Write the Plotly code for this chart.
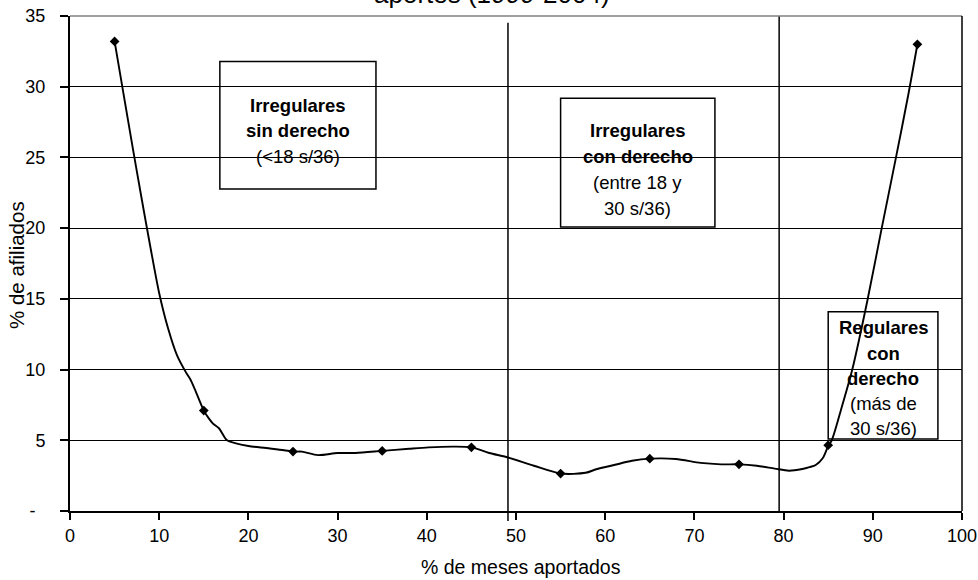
import plotly.graph_objects as go

# Smoothed distribution curve: % of affiliates by % of months contributed
curve_x = [5, 6, 7, 8, 9, 10, 11, 12, 13, 13.5, 14, 15, 15.5, 16, 16.7, 17.6,
           18.5, 20, 22, 24, 25, 26, 27.8, 30, 32, 35, 38, 40.2, 43, 45, 47, 49,
           52, 55, 57.8, 59, 61, 63, 65, 67.9, 70.7, 73, 75, 77, 79, 80.6, 82.1,
           82.9, 83.6, 84.4, 85, 85.4, 86.5, 87.7, 89.4, 91, 92.6, 94, 95]
curve_y = [33.2, 29.5, 25.8, 22.2, 18.7, 15.4, 12.9, 11.0, 9.8, 9.3, 8.6, 7.1, 6.6, 6.2, 5.85, 5.0,
           4.8, 4.6, 4.45, 4.3, 4.2, 4.2, 3.95, 4.1, 4.1, 4.25, 4.4, 4.5, 4.55, 4.5,
           4.1, 3.8, 3.2, 2.65, 2.7, 2.95, 3.25, 3.55, 3.7, 3.68, 3.4, 3.3, 3.3, 3.2,
           3.0, 2.85, 2.97, 3.1, 3.25, 3.75, 4.6, 5.0, 7.3, 10, 14.9, 20, 25, 29.5, 33.0]

# Marked points every 10 percentage points
point_x = [5, 15, 25, 35, 45, 55, 65, 75, 85, 95]
point_y = [33.2, 7.1, 4.2, 4.25, 4.5, 2.65, 3.7, 3.3, 4.65, 33.0]

x_ticks = [0, 10, 20, 30, 40, 50, 60, 70, 80, 90, 100]
y_ticks = [0, 5, 10, 15, 20, 25, 30, 35]
y_tick_labels = ["-\u00a0\u00a0", "5", "10", "15", "20", "25", "30", "35"]

# Limits between contributor groups
group_limits = [49.1, 79.5]

group_boxes = [
    {"lines": ["<b>Irregulares</b>", "<b>sin derecho</b>", "(<18 s/36)"]},
    {"lines": ["<b>Irregulares</b>", "<b>con derecho</b>", "(entre 18 y", "30 s/36)"]},
    {"lines": ["<b>Regulares</b>", "<b>con</b>", "<b>derecho</b>", "(más de", "30 s/36)"]},
]

FONT = "Liberation Sans, Arial, sans-serif"

fig = go.Figure()

fig.add_trace(go.Scatter(
    x=curve_x, y=curve_y, mode="lines",
    line=dict(color="black", width=1.9, shape="spline", smoothing=0.8),
    hoverinfo="skip", showlegend=False,
))
fig.add_trace(go.Scatter(
    x=point_x, y=point_y, mode="markers",
    marker=dict(symbol="diamond", size=7.5, color="black"),
    showlegend=False,
))

shapes = []
# group separators
shapes.append(dict(type="line", xref="x", yref="paper", x0=group_limits[0], x1=group_limits[0],
                   y0=-0.02, y1=0.9865, line=dict(color="black", width=1.5), layer="above"))
shapes.append(dict(type="line", xref="x", yref="paper", x0=group_limits[1], x1=group_limits[1],
                   y0=0, y1=1, line=dict(color="black", width=1.5), layer="above"))
# top frame and right frame
shapes.append(dict(type="line", xref="paper", yref="paper", x0=0, x1=1, y0=1, y1=1,
                   line=dict(color="#808080", width=1.5), layer="above"))
shapes.append(dict(type="line", xref="paper", yref="paper", x0=1, x1=1, y0=0, y1=1,
                   line=dict(color="black", width=1.5), layer="above"))

# label boxes: (x0, x1, y0, y1, text centre x, first line y, line step)
box_geom = [
    (16.8, 34.3, 22.77, 31.78, 25.55, 28.64, 1.77),
    (55.0, 72.3, 20.08, 29.19, 63.65, 26.87, 1.82),
    (85.0, 97.3, 5.09, 14.09, 91.15, 12.94, 1.77),
]
annotations = []
for box, (bx0, bx1, by0, by1, cx, ytop, step) in zip(group_boxes, box_geom):
    shapes.append(dict(type="rect", xref="x", yref="y", x0=bx0, x1=bx1, y0=by0, y1=by1,
                       line=dict(color="black", width=1.5), fillcolor="rgba(0,0,0,0)",
                       layer="below"))
    for i, line in enumerate(box["lines"]):
        annotations.append(dict(x=cx, y=ytop - i * step, xref="x", yref="y", text=line,
                                showarrow=False, xanchor="center", yanchor="middle",
                                font=dict(family=FONT, size=18.5, color="black")))

annotations.append(dict(text="% de meses aportados", xref="paper", yref="paper",
                        x=0.506, y=-0.113, xanchor="center", yanchor="middle",
                        showarrow=False, font=dict(family=FONT, size=19.5, color="black")))
annotations.append(dict(text="% de afiliados", xref="paper", yref="paper",
                        x=-0.0594, y=0.497, xanchor="center", yanchor="middle",
                        textangle=-90, showarrow=False,
                        font=dict(family=FONT, size=20.5, color="black")))
annotations.append(dict(text="aportes (1999-2004)", xref="paper", yref="paper",
                        x=0.473, y=1.0, xanchor="center", yanchor="bottom", yshift=5,
                        showarrow=False, font=dict(family=FONT, size=26, color="black")))

fig.update_layout(
    width=978, height=580,
    margin=dict(l=70, r=16, t=16, b=69, autoexpand=False),
    paper_bgcolor="white", plot_bgcolor="white",
    font=dict(family=FONT, size=18, color="black"),
    shapes=shapes, annotations=annotations,
    xaxis=dict(range=[0, 100], tickvals=x_ticks, ticks="outside", ticklen=7,
               tickcolor="black", tickwidth=1.5, showgrid=False, zeroline=False,
               showline=True, linecolor="black", linewidth=2, automargin=False,
               tickfont=dict(family=FONT, size=18)),
    yaxis=dict(range=[0, 35], tickvals=y_ticks, ticktext=y_tick_labels, ticks="outside",
               ticklen=8, tickcolor="black", tickwidth=1.5, showgrid=True,
               gridcolor="black", gridwidth=1.2, zeroline=False,
               showline=True, linecolor="black", linewidth=2, automargin=False,
               ticklabelstandoff=11,
               tickfont=dict(family=FONT, size=18)),
)

fig.write_html("out.html")
